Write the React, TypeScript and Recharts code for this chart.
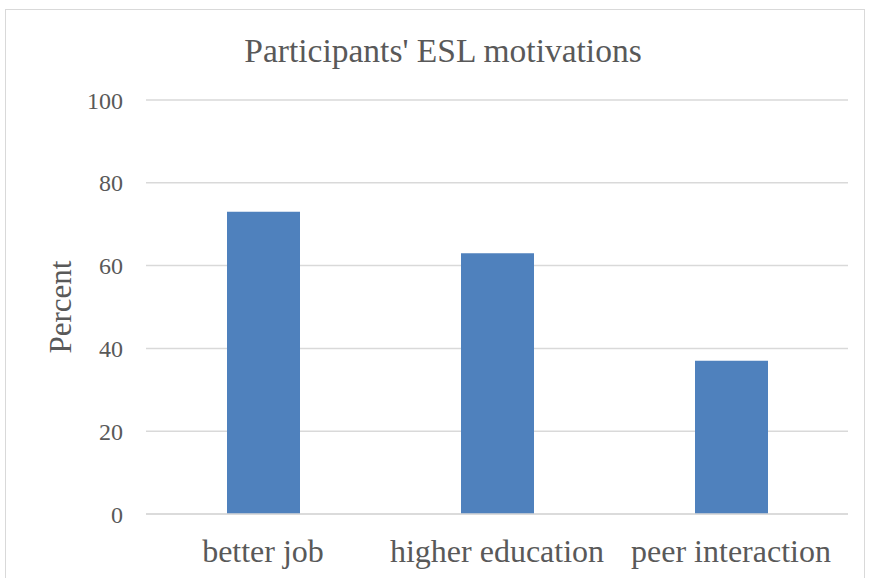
import React from 'react';
import { BarChart, Bar, XAxis, YAxis, CartesianGrid } from 'recharts';

const categories = ['better job', 'higher education', 'peer interaction'];
const percentValues = [73, 63, 37];
const yTicks = [0, 20, 40, 60, 80, 100];

const data = categories.map((name, i) => ({ name, value: percentValues[i] }));

const FONT = '"Liberation Serif", "Times New Roman", serif';
const TEXT = '#595959';

export default function App() {
  return (
    <div style={{ position: 'absolute', left: 0, top: 0, width: 870, height: 578, overflow: 'hidden', background: '#fff' }}>
      <div style={{ position: 'absolute', left: 5, top: 9, width: 860, height: 600, border: '1px solid #d9d9d9', boxSizing: 'border-box' }} />
      <div style={{ position: 'absolute', left: 0, top: 34, width: 886, textAlign: 'center', fontFamily: FONT, fontSize: 33.5, lineHeight: '33.5px', color: TEXT }}>
        Participants' ESL motivations
      </div>
      <div style={{ position: 'absolute', left: 0, top: 0 }}>
        <BarChart width={870} height={578} data={data} margin={{ top: 100, right: 22, bottom: 0, left: 0 }}>
          <CartesianGrid vertical={false} stroke="#d9d9d9" strokeWidth={1.5} />
          <XAxis
            dataKey="name"
            height={64}
            axisLine={{ stroke: '#d9d9d9', strokeWidth: 1.5 }}
            tickLine={false}
            tickSize={0}
            tickMargin={25}
            tick={{ fill: TEXT, fontSize: 32, fontFamily: FONT }}
            interval={0}
          />
          <YAxis
            width={146}
            domain={[0, 100]}
            ticks={yTicks}
            axisLine={false}
            tickLine={false}
            tickSize={0}
            tickMargin={23}
            tick={{ fill: TEXT, fontSize: 24, fontFamily: FONT }}
            label={{ value: 'Percent', angle: -90, position: 'insideLeft', offset: 60, style: { textAnchor: 'middle', fill: TEXT, fontSize: 31, fontFamily: FONT } }}
          />
          <Bar dataKey="value" fill="#4f81bd" barSize={73} isAnimationActive={false} />
        </BarChart>
      </div>
    </div>
  );
}
